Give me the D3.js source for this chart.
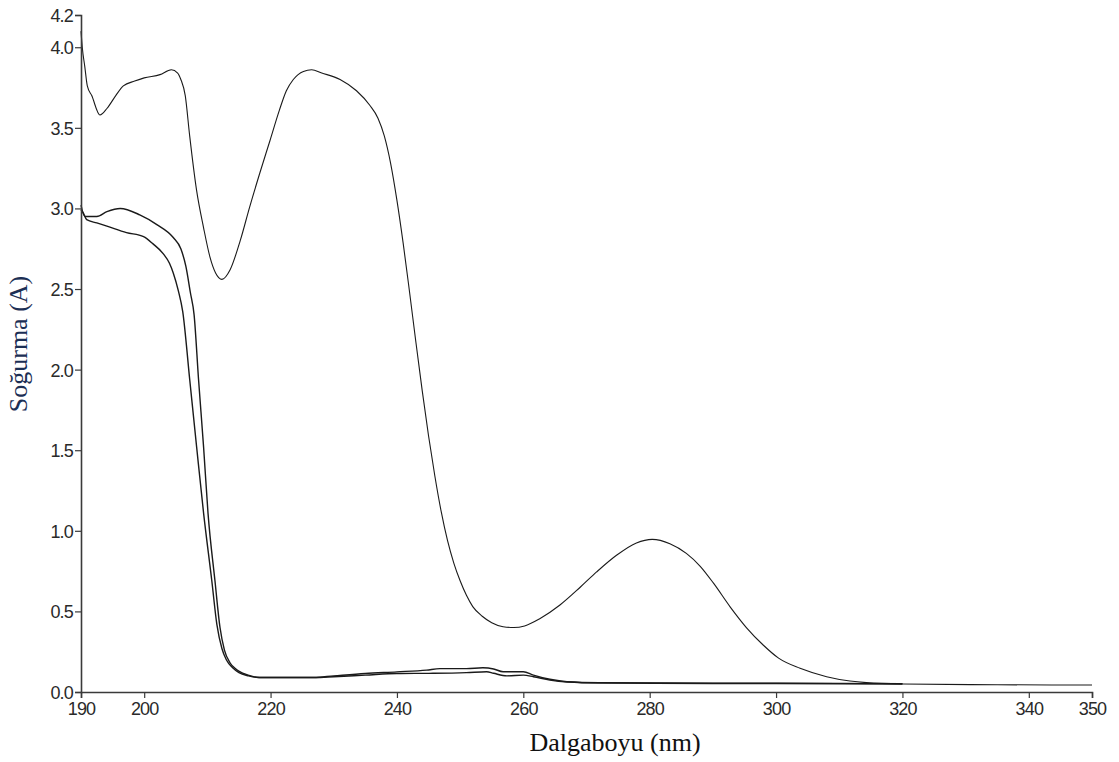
<!DOCTYPE html>
<html>
<head>
<meta charset="utf-8">
<script src="https://cdn.jsdelivr.net/npm/d3@7"></script>
<style>
  body { margin: 0; background: #fff; }
  #chart svg { display: block; }
</style>
</head>
<body>
<div id="chart"></div>
<script>
// Absorbance spectra
const wlTop = [190.0, 190.2, 190.6, 191.0, 191.7, 193.0, 194.1, 195.5, 196.7, 198.5, 200.0, 202.5, 204.3, 205.3, 205.8,
  206.5, 207.2, 208.3, 209.4, 210.4, 211.3, 212.3, 213.6, 215.2, 216.7, 218.3, 219.9, 221.4, 222.5, 223.6, 225.2,
  226.5, 228.1, 231.0, 233.6, 235.7, 237.0, 238.0, 239.0, 240.0, 241.0, 242.0, 243.0, 244.0, 245.0, 246.0, 247.0,
  248.0, 249.0, 250.0, 251.0, 252.0, 253.5, 255.0, 256.8, 258.5, 260.2, 262.6, 265.8, 269.0, 271.6, 274.8, 277.9,
  280.4, 283.2, 285.8, 288.0, 290.1, 292.7, 295.3, 298.0, 300.4, 303.8, 308.0, 311.7, 314.3, 320.0, 335.0, 350.0];
const absTop = [4.10, 4.00, 3.88, 3.76, 3.70, 3.58, 3.62, 3.70, 3.76, 3.79, 3.81, 3.83, 3.86, 3.84, 3.80,
  3.70, 3.45, 3.11, 2.88, 2.70, 2.60, 2.56, 2.62, 2.80, 3.01, 3.22, 3.42, 3.61, 3.73, 3.80, 3.85,
  3.86, 3.84, 3.80, 3.73, 3.64, 3.56, 3.45, 3.28, 3.05, 2.78, 2.48, 2.17, 1.87, 1.59, 1.34, 1.12,
  0.94, 0.80, 0.69, 0.60, 0.53, 0.47, 0.43, 0.405, 0.40, 0.41, 0.455, 0.54, 0.65, 0.745, 0.85, 0.925,
  0.947, 0.92, 0.86, 0.78, 0.675, 0.53, 0.40, 0.29, 0.21, 0.147, 0.095, 0.068, 0.058, 0.05, 0.045, 0.043];

const wlB = [190.0, 190.6, 192.5, 194.1, 196.2, 199.3, 202.0, 204.6, 205.8, 206.6, 207.3, 207.9, 208.6, 209.4,
  210.1, 211.2, 212.0, 212.7, 213.6, 214.6, 215.7, 217.3, 218.3, 226.8, 230.0, 235.0, 240.0, 244.7, 246.8,
  251.0, 253.6, 255.3, 256.8, 260.0, 261.6, 264.2, 266.9, 272.0, 290.0, 300.0, 320.0];
const absB = [3.02, 2.95, 2.95, 2.98, 3.00, 2.96, 2.90, 2.82, 2.75, 2.64, 2.48, 2.34, 1.94, 1.52,
  1.11, 0.69, 0.40, 0.26, 0.18, 0.14, 0.115, 0.095, 0.09, 0.09, 0.10, 0.115, 0.125, 0.136, 0.145,
  0.145, 0.15, 0.143, 0.126, 0.126, 0.105, 0.079, 0.064, 0.058, 0.055, 0.055, 0.052];

const wlC = [190.0, 190.4, 190.9, 192.5, 194.1, 197.2, 199.9, 201.4, 203.0, 204.0, 204.6, 205.4, 206.1, 207.2,
  208.3, 209.4, 210.7, 211.5, 212.3, 213.0, 214.0, 215.0, 216.5, 218.0, 227.0, 230.0, 235.0, 240.0, 245.7,
  251.0, 254.2, 255.3, 257.4, 260.0, 261.6, 264.2, 267.0, 272.0, 290.0, 300.0, 320.0];
const absC = [2.99, 2.97, 2.93, 2.91, 2.89, 2.85, 2.825, 2.78, 2.72, 2.66, 2.60, 2.49, 2.36, 1.94,
  1.52, 1.11, 0.69, 0.42, 0.27, 0.20, 0.15, 0.12, 0.10, 0.09, 0.09, 0.095, 0.105, 0.115, 0.116,
  0.12, 0.126, 0.116, 0.10, 0.105, 0.095, 0.074, 0.062, 0.056, 0.053, 0.053, 0.05];

const xTicks = [190, 200, 220, 240, 260, 280, 300, 320, 340, 350];
const yTicks = [0, 0.5, 1.0, 1.5, 2.0, 2.5, 3.0, 3.5, 4.0, 4.2];
const xTitle = "Dalgaboyu (nm)";
const yTitle = "Soğurma (A)";

const width = 1119, height = 762;
const margin = { top: 15, right: 27, bottom: 70, left: 81 };
const innerW = width - margin.left - margin.right;
const innerH = height - margin.top - margin.bottom;

const svg = d3.select("#chart").append("svg")
  .attr("width", width)
  .attr("height", height);

const g = svg.append("g")
  .attr("transform", `translate(${margin.left},${margin.top})`);

const x = d3.scaleLinear().domain([190, 350]).range([0, innerW]);
const y = d3.scaleLinear().domain([0, 4.2]).range([innerH, 0]);

const series = [
  { wl: wlTop, abs: absTop, w: 1.1 },
  { wl: wlB, abs: absB, w: 1.4 },
  { wl: wlC, abs: absC, w: 1.4 }
];

const line = d3.line()
  .x(d => x(d[0]))
  .y(d => y(d[1]))
  .curve(d3.curveMonotoneX);

g.selectAll(".spectrum")
  .data(series)
  .enter().append("path")
  .attr("class", "spectrum")
  .attr("fill", "none")
  .attr("stroke", "#1a1a1a")
  .attr("stroke-width", d => d.w)
  .attr("d", d => line(d.wl.map((v, i) => [v, d.abs[i]])));

// axes
const xAxis = g.append("g")
  .attr("transform", `translate(0,${innerH})`)
  .call(d3.axisBottom(x).tickValues(xTicks).tickSize(6).tickPadding(4).tickFormat(d3.format("d")));

const yAxis = g.append("g")
  .call(d3.axisLeft(y).tickValues(yTicks).tickSize(6).tickPadding(2).tickFormat(d3.format(".1f")));

[xAxis, yAxis].forEach(a => {
  a.select(".domain").attr("stroke", "#3a3a3a").attr("stroke-width", 1.6);
  a.selectAll(".tick line").attr("stroke", "#3a3a3a").attr("stroke-width", 1.2);
  a.selectAll(".tick text")
    .attr("fill", "#2a2a2a")
    .style("font-family", "'Liberation Sans', Arial, sans-serif")
    .style("font-size", "18px")
    .style("letter-spacing", "-0.8px");
});
yAxis.selectAll(".tick text").attr("dy", "0.36em");

svg.append("text")
  .attr("x", 615)
  .attr("y", 751)
  .attr("text-anchor", "middle")
  .attr("fill", "#111")
  .style("font-family", "'Liberation Serif', 'Times New Roman', serif")
  .style("font-size", "26px")
  .text(xTitle);

svg.append("text")
  .attr("transform", "rotate(-90)")
  .attr("x", -344)
  .attr("y", 27)
  .attr("text-anchor", "middle")
  .attr("fill", "#1c2f55")
  .style("font-family", "'Liberation Serif', 'Times New Roman', serif")
  .style("font-size", "26px")
  .text(yTitle);
</script>
</body>
</html>
